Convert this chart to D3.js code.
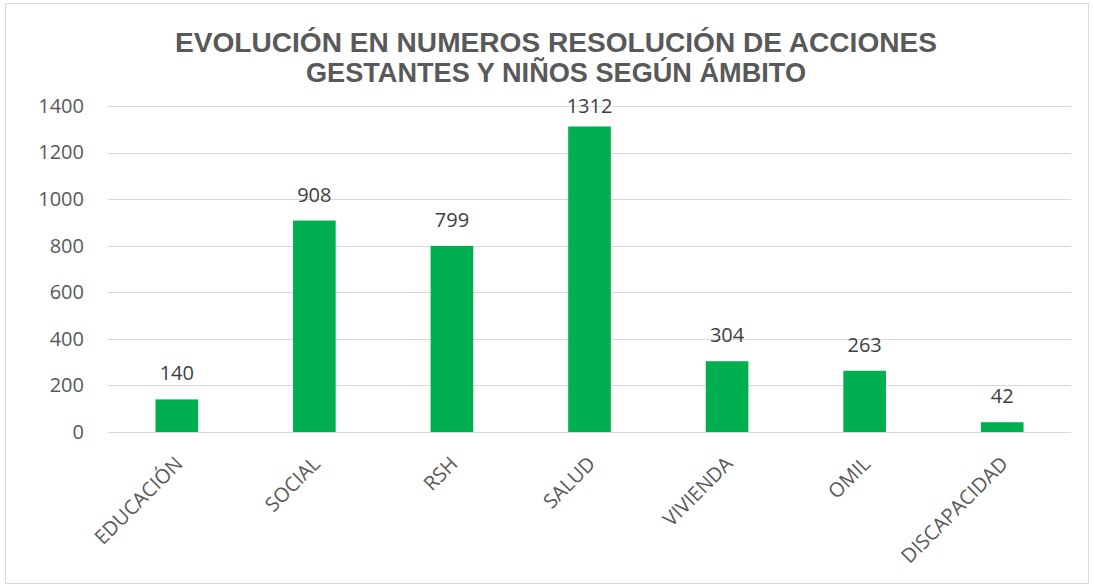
<!DOCTYPE html>
<html><head><meta charset="utf-8">
<script src="https://cdn.jsdelivr.net/npm/d3@7"></script>
<style>body{margin:0;background:#fff}</style>
</head><body>
<svg id="c" width="1094" height="588"></svg>
<script>
const categories = ["EDUCACIÓN","SOCIAL","RSH","SALUD","VIVIENDA","OMIL","DISCAPACIDAD"];
const values = [140, 908, 799, 1312, 304, 263, 42];
const yTicks = [0,200,400,600,800,1000,1200,1400];
const titleLines = ["EVOLUCIÓN EN NUMEROS RESOLUCIÓN DE ACCIONES","GESTANTES Y NIÑOS SEGÚN ÁMBITO"];

(function(){
const svg = d3.select("#c");
svg.append("rect").attr("x",5.5).attr("y",3.5).attr("width",1083).attr("height",580)
  .attr("fill","#fff").attr("stroke","#d9d9d9").attr("stroke-width",1);

const pL=108, pR=1071, pT=106, pB=432;
const x = d3.scaleBand().domain(categories).range([pL,pR]).paddingInner(0.69).paddingOuter(0.345);
const y = d3.scaleLinear().domain([0,1400]).range([pB,pT]);

const font = "'Open Sans', 'Noto Sans', sans-serif";
svg.append("g").selectAll("line").data(yTicks).join("line")
  .attr("x1",pL).attr("x2",pR).attr("y1",d=>Math.round(y(d))+0.5).attr("y2",d=>Math.round(y(d))+0.5)
  .attr("stroke","#d9d9d9").attr("stroke-width",1);

const ya = svg.append("g").attr("transform",`translate(${pL},0)`)
  .call(d3.axisLeft(y).tickValues(yTicks).tickSize(0).tickPadding(24).tickFormat(d3.format("d")));
ya.select(".domain").remove();
ya.selectAll("text").attr("font-family",font).attr("font-size",20).attr("fill","#595959");

svg.append("g").selectAll("rect").data(values).join("rect")
  .attr("x",(d,i)=>x(categories[i])).attr("width",x.bandwidth())
  .attr("y",d=>y(d)).attr("height",d=>y(0)-y(d)).attr("fill","#00B050");

svg.append("g").selectAll("text").data(values).join("text")
  .attr("x",(d,i)=>x(categories[i])+x.bandwidth()/2).attr("y",d=>Math.max(y(d)-19, pT+7))
  .attr("text-anchor","middle").attr("font-family",font).attr("font-size",20).attr("fill","#404040")
  .text(d=>d);

const xa = svg.append("g").attr("transform",`translate(0,${pB})`)
  .call(d3.axisBottom(x).tickSize(0).tickPadding(0));
xa.select(".domain").remove();
xa.selectAll("text").attr("font-family",font).attr("font-size",20).attr("fill","#595959")
  .attr("text-anchor","end").attr("dy",null).attr("y",0)
  .attr("transform","translate(7,33) rotate(-45)");

const tl = [762, 500];
svg.append("g").selectAll("text").data(titleLines).join("text")
  .attr("x",556).attr("y",(d,i)=>52+i*30).attr("text-anchor","middle")
  .attr("font-family","'Liberation Sans', Arial, sans-serif").attr("font-weight","bold")
  .attr("font-size",27).attr("fill","#595959")
  .attr("textLength",(d,i)=>tl[i]).attr("lengthAdjust","spacingAndGlyphs").text(d=>d);
})();
</script>
</body></html>
